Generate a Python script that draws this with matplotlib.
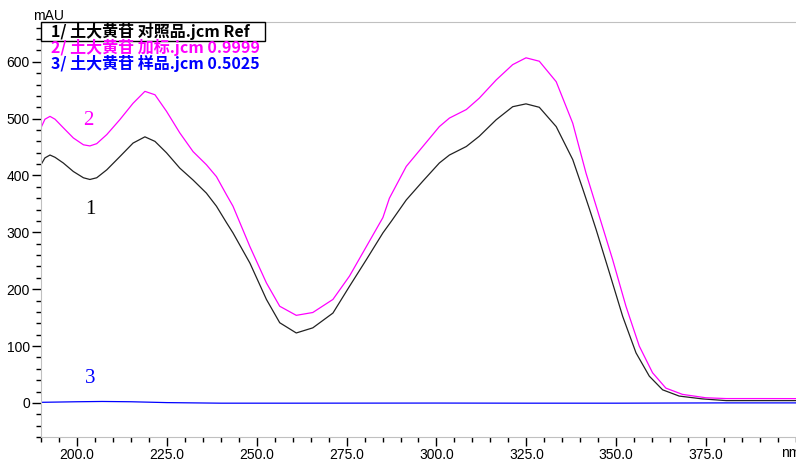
import matplotlib
matplotlib.use("Agg")
import matplotlib.pyplot as plt
from matplotlib.ticker import MultipleLocator, FixedLocator, FormatStrFormatter
from matplotlib.patches import Rectangle

# wavelength (nm) and absorbance (mAU)
wl_ref = [190, 191.1, 192.5, 193.9, 196.2, 199.0, 201.8, 203.6, 205.5, 208.3,
          211.9, 215.6, 218.9, 221.7, 224.9, 228.6, 232.3, 236.0, 238.8, 241.6,
          243.4, 248.1, 252.7, 256.4, 261.0, 265.6, 271.2, 275.8, 280.5, 285.1,
          287.5, 291.6, 296.2, 300.8, 303.6, 308.3, 311.9, 316.6, 321.2, 324.9,
          328.6, 333.3, 337.9, 340.6, 342.5, 344.4, 348.1, 351.8, 355.5, 359.2,
          362.9, 367.5, 374.0, 380.6, 389.7, 400]
ref = [419, 431, 436, 432, 422, 407, 396, 393, 396, 410,
       433, 457, 468, 460, 440, 413, 392, 369, 346, 317,
       299, 246, 182, 141, 123, 132, 158, 205, 252, 299,
       320, 357, 390, 422, 436, 451, 469, 498, 521, 526,
       520, 486, 428, 378, 342, 305, 229, 152, 88, 47,
       23, 12, 7, 4, 4, 4]

wl_spk = [190, 191.1, 192.5, 193.9, 196.2, 199.0, 201.8, 203.6, 205.5, 208.3,
          211.9, 215.6, 218.9, 221.7, 224.9, 228.6, 232.3, 236.0, 238.8, 241.6,
          243.4, 248.1, 252.7, 256.4, 261.0, 265.6, 271.2, 275.8, 280.5, 285.1,
          286.9, 291.6, 296.2, 300.8, 303.6, 308.3, 311.9, 316.6, 321.2, 324.9,
          328.6, 333.3, 337.9, 341.6, 345.3, 349.0, 352.7, 356.4, 360.1, 363.8,
          368.4, 374.9, 380.6, 389.7, 400]
spiked = [484, 499, 504, 499, 484, 466, 454, 452, 456, 472,
          498, 527, 548, 542, 513, 475, 442, 419, 398, 366,
          346, 275, 211, 170, 154, 159, 182, 223, 275, 326,
          360, 416, 451, 486, 501, 516, 536, 568, 595, 607,
          601, 565, 492, 404, 328, 252, 170, 100, 53, 26,
          15, 9, 7.6, 7.6, 7.5]

wl_smp = [190, 200, 207, 215, 225, 240, 260, 300, 325, 350, 380, 400]
sample = [1, 2, 2.5, 2, 0.5, -0.5, -0.5, -0.3, -0.5, -0.5, 0, 0]

legend_lines = ["1/ 土大黄苷 对照品.jcm Ref",
                "2/ 土大黄苷 加标.jcm 0.9999",
                "3/ 土大黄苷 样品.jcm 0.5025"]
colors = ["#000000", "#ff00ff", "#0000ff"]
x_major = [200, 225, 250, 275, 300, 325, 350, 375]

fig = plt.figure(figsize=(7.96, 4.59), dpi=100)
ax = fig.add_axes([41/796, 1-437/459, 1-41/796, (437-22)/459])

ax.plot(wl_ref, ref, color="#222222", lw=0.9)
ax.plot(wl_spk, spiked, color=colors[1], lw=0.9)
ax.plot(wl_smp, sample, color=colors[2], lw=0.9)

ax.set_xlim(190, 400)
ax.set_ylim(-60, 670)

ax.xaxis.set_major_locator(FixedLocator(x_major))
ax.xaxis.set_minor_locator(MultipleLocator(5))
ax.xaxis.set_major_formatter(FormatStrFormatter("%.1f"))
ax.yaxis.set_major_locator(MultipleLocator(100))
ax.yaxis.set_minor_locator(MultipleLocator(20))
ax.tick_params(which="major", length=6.5, width=1, labelsize=10, pad=1.5)
ax.tick_params(which="minor", length=3.5, width=1)
for lab in ax.get_xticklabels() + ax.get_yticklabels():
    lab.set_family("Liberation Sans")

for s in ["left", "bottom", "top"]:
    ax.spines[s].set_color("#c0c0c0")
ax.spines["right"].set_visible(False)

# curve numbers
ax.text(203.1, 496, "2", color=colors[1], fontsize=15, family="Liberation Serif",
        ha="center", va="center")
ax.text(203.6, 341, "1", color=colors[0], fontsize=15, family="Liberation Serif",
        ha="center", va="center")
ax.text(203.6, 43, "3", color=colors[2], fontsize=15, family="Liberation Serif",
        ha="center", va="center")

fig.text(33/796, 1-16/459, "mAU", fontsize=10, family="Liberation Sans",
         ha="left", va="center")
fig.text(781/796, 1-453/459, "nm", fontsize=10, family="Liberation Sans",
         ha="left", va="center")

# legend block
fig.add_artist(Rectangle((41/796, 1-41/459), 224/796, 19/459, transform=fig.transFigure,
                         fill=False, edgecolor="black", lw=1))
ys = [31, 47, 63]
for txt, c, y in zip(legend_lines, colors, ys):
    fig.text(51/796, 1-y/459, txt, color=c, fontsize=11.5, fontweight="bold",
             family=["Noto Sans CJK SC", "DejaVu Sans"], ha="left", va="center")

fig.savefig("out.png", dpi=100)
